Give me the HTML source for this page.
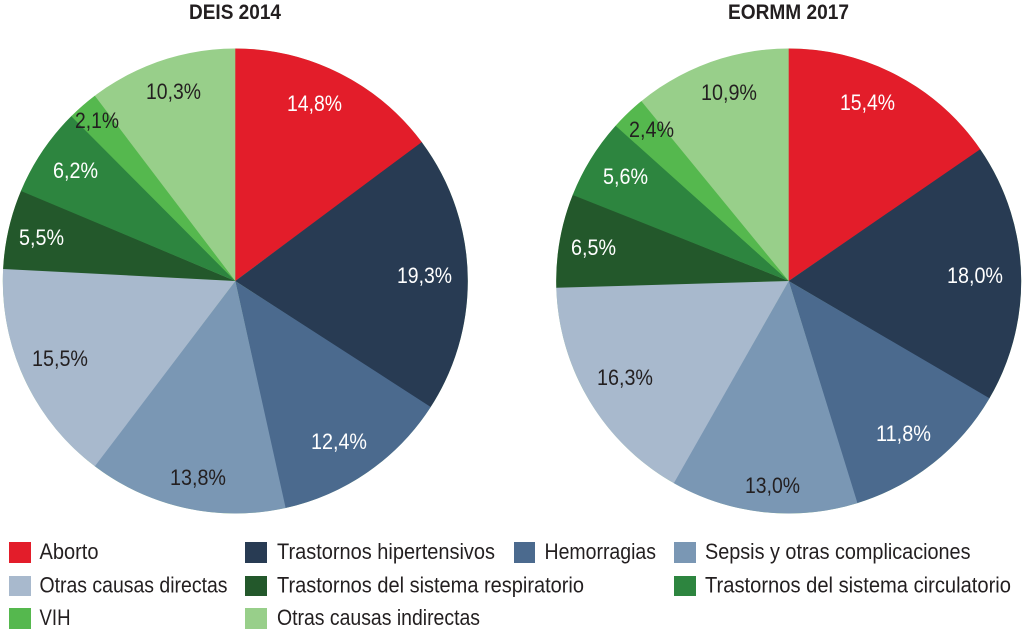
<!DOCTYPE html>
<html>
<head>
<meta charset="utf-8">
<style>
html,body{margin:0;padding:0;background:#fff;}
svg{display:block;}
text{font-family:"Liberation Sans",sans-serif;}
</style>
</head>
<body>
<svg width="1024" height="631" viewBox="0 0 1024 631" xmlns="http://www.w3.org/2000/svg">
<rect width="1024" height="631" fill="#fff"/>

<!-- Titles -->
<text x="189" y="19" font-size="21" font-weight="bold" fill="#231f20" textLength="92" lengthAdjust="spacingAndGlyphs">DEIS 2014</text>
<text x="728" y="19" font-size="21" font-weight="bold" fill="#231f20" textLength="121" lengthAdjust="spacingAndGlyphs">EORMM 2017</text>

<!-- Left pie -->
<g transform="translate(235.3,281) rotate(-90)">
  <circle r="232.5" fill="#98cf8a"/>
  <g fill="none" stroke-width="232.5">
    <circle r="116.25" stroke="#e31d2a" stroke-dasharray="108.4 730.42" stroke-dashoffset="0"/>
    <circle r="116.25" stroke="#283b53" stroke-dasharray="141.3 730.42" stroke-dashoffset="-108.10"/>
    <circle r="116.25" stroke="#4b6a8e" stroke-dasharray="90.9 730.42" stroke-dashoffset="-249.07"/>
    <circle r="116.25" stroke="#7a97b4" stroke-dasharray="101.1 730.42" stroke-dashoffset="-339.65"/>
    <circle r="116.25" stroke="#a8b9cd" stroke-dasharray="113.5 730.42" stroke-dashoffset="-440.44"/>
    <circle r="116.25" stroke="#23582b" stroke-dasharray="40.5 730.42" stroke-dashoffset="-553.66"/>
    <circle r="116.25" stroke="#2d853f" stroke-dasharray="45.6 730.42" stroke-dashoffset="-593.83"/>
    <circle r="116.25" stroke="#55b84e" stroke-dasharray="15.6 730.42" stroke-dashoffset="-639.12"/>
  </g>
</g>

<!-- Right pie -->
<g transform="translate(788.7,281) rotate(-90)">
  <circle r="232.5" fill="#98cf8a"/>
  <g fill="none" stroke-width="232.5">
    <circle r="116.25" stroke="#e31d2a" stroke-dasharray="112.8 730.42" stroke-dashoffset="0"/>
    <circle r="116.25" stroke="#283b53" stroke-dasharray="131.8 730.42" stroke-dashoffset="-112.48"/>
    <circle r="116.25" stroke="#4b6a8e" stroke-dasharray="86.5 730.42" stroke-dashoffset="-243.96"/>
    <circle r="116.25" stroke="#7a97b4" stroke-dasharray="95.3 730.42" stroke-dashoffset="-330.15"/>
    <circle r="116.25" stroke="#a8b9cd" stroke-dasharray="119.4 730.42" stroke-dashoffset="-425.10"/>
    <circle r="116.25" stroke="#23582b" stroke-dasharray="47.8 730.42" stroke-dashoffset="-544.16"/>
    <circle r="116.25" stroke="#2d853f" stroke-dasharray="41.2 730.42" stroke-dashoffset="-591.64"/>
    <circle r="116.25" stroke="#55b84e" stroke-dasharray="17.8 730.42" stroke-dashoffset="-632.54"/>
  </g>
</g>

<!-- Left pie labels -->
<g font-size="22">
  <text x="287" y="111" fill="#fff" textLength="55" lengthAdjust="spacingAndGlyphs">14,8%</text>
  <text x="146" y="99" fill="#231f20" textLength="55" lengthAdjust="spacingAndGlyphs">10,3%</text>
  <text x="75" y="128" fill="#231f20" textLength="44" lengthAdjust="spacingAndGlyphs">2,1%</text>
  <text x="53" y="178" fill="#fff" textLength="45" lengthAdjust="spacingAndGlyphs">6,2%</text>
  <text x="19" y="245" fill="#fff" textLength="45" lengthAdjust="spacingAndGlyphs">5,5%</text>
  <text x="397" y="283" fill="#fff" textLength="55" lengthAdjust="spacingAndGlyphs">19,3%</text>
  <text x="32" y="366" fill="#231f20" textLength="56" lengthAdjust="spacingAndGlyphs">15,5%</text>
  <text x="170" y="485" fill="#231f20" textLength="56" lengthAdjust="spacingAndGlyphs">13,8%</text>
  <text x="311" y="449" fill="#fff" textLength="56" lengthAdjust="spacingAndGlyphs">12,4%</text>
</g>

<!-- Right pie labels -->
<g font-size="22">
  <text x="840" y="110" fill="#fff" textLength="55" lengthAdjust="spacingAndGlyphs">15,4%</text>
  <text x="701" y="100" fill="#231f20" textLength="56" lengthAdjust="spacingAndGlyphs">10,9%</text>
  <text x="629" y="137" fill="#231f20" textLength="45" lengthAdjust="spacingAndGlyphs">2,4%</text>
  <text x="603" y="184" fill="#fff" textLength="45" lengthAdjust="spacingAndGlyphs">5,6%</text>
  <text x="571" y="255" fill="#fff" textLength="45" lengthAdjust="spacingAndGlyphs">6,5%</text>
  <text x="947" y="283" fill="#fff" textLength="56" lengthAdjust="spacingAndGlyphs">18,0%</text>
  <text x="597" y="385" fill="#231f20" textLength="56" lengthAdjust="spacingAndGlyphs">16,3%</text>
  <text x="745" y="493" fill="#231f20" textLength="55" lengthAdjust="spacingAndGlyphs">13,0%</text>
  <text x="876" y="441" fill="#fff" textLength="55" lengthAdjust="spacingAndGlyphs">11,8%</text>
</g>

<!-- Legend -->
<g>
  <rect x="9" y="542" width="22" height="21" fill="#e31d2a"/>
  <rect x="245" y="542" width="22" height="21" fill="#283b53"/>
  <rect x="514" y="542" width="21" height="21" fill="#4b6a8e"/>
  <rect x="674" y="542" width="22" height="21" fill="#7a97b4"/>

  <rect x="9" y="576" width="22" height="20" fill="#a8b9cd"/>
  <rect x="245" y="576" width="22" height="20" fill="#23582b"/>
  <rect x="674" y="576" width="22" height="20" fill="#2d853f"/>

  <rect x="9" y="608" width="22" height="21" fill="#55b84e"/>
  <rect x="245" y="608" width="22" height="21" fill="#98cf8a"/>
</g>
<g font-size="22" fill="#231f20">
  <text x="39.5" y="559" textLength="59" lengthAdjust="spacingAndGlyphs">Aborto</text>
  <text x="277" y="559" textLength="218" lengthAdjust="spacingAndGlyphs">Trastornos hipertensivos</text>
  <text x="544.5" y="559" textLength="111.5" lengthAdjust="spacingAndGlyphs">Hemorragias</text>
  <text x="705" y="559" textLength="265.5" lengthAdjust="spacingAndGlyphs">Sepsis y otras complicaciones</text>

  <text x="39.5" y="592.5" textLength="188" lengthAdjust="spacingAndGlyphs">Otras causas directas</text>
  <text x="277" y="592.5" textLength="307" lengthAdjust="spacingAndGlyphs">Trastornos del sistema respiratorio</text>
  <text x="705" y="592.5" textLength="306" lengthAdjust="spacingAndGlyphs">Trastornos del sistema circulatorio</text>

  <text x="39.5" y="625" textLength="31" lengthAdjust="spacingAndGlyphs">VIH</text>
  <text x="277" y="625" textLength="203" lengthAdjust="spacingAndGlyphs">Otras causas indirectas</text>
</g>
</svg>
</body>
</html>
